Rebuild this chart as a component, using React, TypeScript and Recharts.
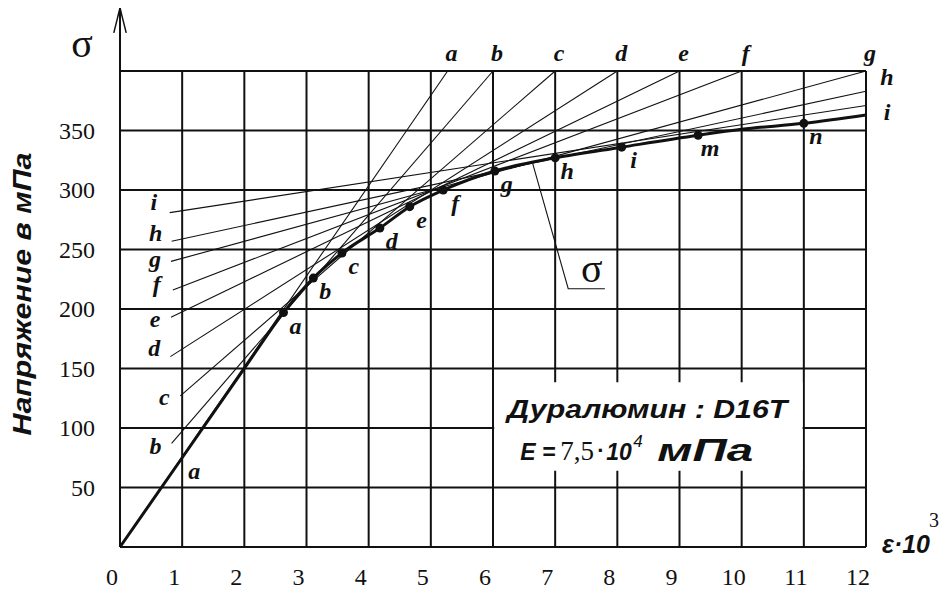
import {
  ComposedChart,
  Line,
  Scatter,
  XAxis,
  YAxis,
  CartesianGrid,
  ReferenceLine,
  ReferenceArea,
} from "recharts";

// axes
const xTicks = [0, 1, 2, 3, 4, 5, 6, 7, 8, 9, 10, 11, 12];
const yTicks = [0, 50, 100, 150, 200, 250, 300, 350, 400];
const yLabelled = [50, 100, 150, 200, 250, 300, 350];
const axisTop = 453;

// sigma(eps) curve, eps*10^3 vs MPa
const curveEps = [0, 1, 2, 2.63, 3.11, 3.57, 4.18, 4.66, 5.2, 6.03, 7.0, 8.07, 9.3, 10.0, 11.0, 12.0];
const curveSigma = [0, 75, 150, 197, 226, 247, 268, 286, 300, 316, 327, 336, 346, 351, 356, 363];

// marked points on the curve
const pointNames = ["a", "b", "c", "d", "e", "f", "g", "h", "i", "m", "n"];
const pointEps = [2.63, 3.11, 3.57, 4.18, 4.66, 5.2, 6.03, 7.0, 8.07, 9.3, 11.0];
const pointSigma = [197, 226, 247, 268, 286, 300, 316, 327, 336, 346, 356];

// tangent lines a..i
const lineNames = ["a", "b", "c", "d", "e", "f", "g", "h", "i"];
const lineStartEps = [0, 0.83, 0.97, 0.81, 0.82, 0.85, 0.82, 0.83, 0.8];
const lineStartSigma = [0, 87, 127, 160, 193, 216, 240, 257, 281];
const lineEndEps = [5.27, 6.0, 7.0, 8.0, 9.0, 10.0, 12.0, 12.0, 12.0];
const lineEndSigma = [400, 400, 400, 400, 400, 400, 400, 383, 371];

// leader for the sigma label
const leaderEps = [6.64, 7.21, 7.8];
const leaderSigma = [322, 217, 217];

// note box
const boxEps = [6.02, 10.98];
const boxSigma = [64, 138.5];

const curve = curveEps.map((x, i) => ({ x, y: curveSigma[i] }));
const points = pointNames.map((t, i) => ({ x: pointEps[i], y: pointSigma[i], t }));
const tangents = lineNames.map((t, i) => ({
  t,
  data: [
    { x: lineStartEps[i], y: lineStartSigma[i] },
    { x: lineEndEps[i], y: lineEndSigma[i] },
  ],
}));
const leftLabels = tangents.filter((l) => l.t !== "a").map((l) => ({ ...l.data[0], t: l.t }));
const topLabels = tangents.filter((l) => l.data[1].y >= 400).map((l) => ({ ...l.data[1], t: l.t }));
const rightLabels = tangents.filter((l) => l.data[1].y < 400).map((l) => ({ ...l.data[1], t: l.t }));
const elasticLabel = [{ x: curveEps[1], y: curveSigma[1], t: "a" }];
const leader = leaderEps.map((x, i) => ({ x, y: leaderSigma[i] }));
const leaderLabel = [{ ...leader[2], t: "σ" }];

const SERIF = "'Liberation Serif', 'Times New Roman', serif";
const SANS = "'Liberation Sans', Arial, sans-serif";
const INK = "#111";

const letter = {
  fontFamily: SERIF,
  fontStyle: "italic" as const,
  fontWeight: 700,
  fontSize: 24,
  fill: INK,
};

// small vertical nudges so the crowded labels read apart
const leftNudge: Record<string, number> = { i: -8, h: -5, g: 1, f: -3, e: 5, d: -6, c: 4, b: 6 };
const rightNudge: Record<string, number> = { h: -12, i: 8 };

const textShape = (dx: number, dy: number, style: any, withDot = false, nudge: Record<string, number> = {}) => (p: any) => (
  <g>
    {withDot && <circle cx={p.cx} cy={p.cy} r={4.5} fill={INK} />}
    <text
      x={p.cx + dx}
      y={p.cy + dy + (nudge[p.payload.t] || 0)}
      textAnchor="middle"
      style={style}
    >
      {p.payload.t}
    </text>
  </g>
);

const XTick = (p: any) => (
  <text x={p.x - 8} y={p.y + 38} textAnchor="middle" fontFamily={SERIF} fontSize={24} fill={INK}>
    {p.payload.value}
  </text>
);

const YTick = (p: any) =>
  yLabelled.includes(p.payload.value) ? (
    <text x={p.x - 25} y={p.y + 8} textAnchor="end" fontFamily={SERIF} fontSize={24} fill={INK}>
      {p.payload.value}
    </text>
  ) : (
    <g />
  );

const renderYTitle = (props: any) => {
  const vb = props.viewBox;
  const left = vb.x + vb.width;
  const top = vb.y;
  const tx = left - 89;
  const ty = top + 223;
  return (
    <g>
      <text x={left - 38} y={top - 14} textAnchor="middle" fontFamily={SERIF} fontSize={40} fill={INK}>
        σ
      </text>
      <text
        x={tx}
        y={ty}
        transform={`rotate(-90 ${tx} ${ty})`}
        textAnchor="middle"
        fontFamily={SANS}
        fontWeight={700}
        fontStyle="italic"
        fontSize={25}
        textLength={283}
        lengthAdjust="spacingAndGlyphs"
        fill={INK}
      >
        Напряжение в мПа
      </text>
    </g>
  );
};

const renderXTitle = (props: any) => {
  const vb = props.viewBox;
  const right = vb.x + vb.width;
  return (
    <g>
      <text
        x={right + 16}
        y={vb.y + 6}
        fontFamily={SANS}
        fontWeight={700}
        fontStyle="italic"
        fontSize={25}
        textLength={48}
        lengthAdjust="spacingAndGlyphs"
        fill={INK}
      >
        ε·10
      </text>
      <text x={right + 63} y={vb.y - 20} fontFamily={SERIF} fontSize={20} fill={INK}>
        3
      </text>
    </g>
  );
};

const boldItalic = { fontFamily: SANS, fontWeight: 700, fontStyle: "italic" as const, fill: INK };

const renderBoxText = (props: any) => {
  const vb = props.viewBox;
  const x = vb.x;
  const y = vb.y;
  return (
    <g>
      <text
        x={x + 13}
        y={y + 36}
        style={{ ...boldItalic, fontSize: 25 }}
        textLength={280}
        lengthAdjust="spacingAndGlyphs"
      >
        Дуралюмин : D16T
      </text>
      <text x={x + 26} y={y + 78} style={{ ...boldItalic, fontSize: 23 }}>
        E =
      </text>
      <text x={x + 66} y={y + 78} fontFamily={SERIF} fontSize={27} fill={INK}>
        7,5
      </text>
      <text x={x + 103} y={y + 76} style={{ ...boldItalic, fontStyle: "normal", fontSize: 22 }}>
        ·
      </text>
      <text x={x + 112} y={y + 78} style={{ ...boldItalic, fontSize: 23 }}>
        10
      </text>
      <text x={x + 139} y={y + 65} style={{ ...boldItalic, fontWeight: 400, fontSize: 17 }}>
        4
      </text>
      <text
        x={x + 163}
        y={y + 79}
        style={{ ...boldItalic, fontSize: 31 }}
        textLength={96}
        lengthAdjust="spacingAndGlyphs"
      >
        мПа
      </text>
    </g>
  );
};

export default function App() {
  return (
    <ComposedChart
      width={934}
      height={581}
      margin={{ top: 63, right: 76, bottom: 12, left: 52 }}
    >
      <CartesianGrid stroke={INK} strokeWidth={2} />
      <XAxis
        type="number"
        dataKey="x"
        domain={[0, 12]}
        ticks={xTicks}
        axisLine={false}
        tickLine={false}
        tickSize={0}
        tickMargin={0}
        height={30}
        tick={XTick}
        label={{ content: renderXTitle }}
      />
      <YAxis
        type="number"
        dataKey="y"
        domain={[0, 400]}
        ticks={yTicks}
        axisLine={false}
        tickLine={false}
        tickSize={0}
        tickMargin={0}
        width={60}
        tick={YTick}
        label={{ content: renderYTitle }}
      />
      <ReferenceArea
        x1={boxEps[0]}
        x2={boxEps[1]}
        y1={boxSigma[0]}
        y2={boxSigma[1]}
        fill="#fff"
        fillOpacity={1}
        stroke="none"
        label={{ content: renderBoxText }}
      />
      <ReferenceLine segment={[{ x: 0, y: 0 }, { x: 0, y: axisTop }]} stroke={INK} strokeWidth={2} ifOverflow="visible" />
      <ReferenceLine segment={[{ x: -0.1, y: axisTop - 21 }, { x: 0, y: axisTop }]} stroke={INK} strokeWidth={1.5} ifOverflow="visible" />
      <ReferenceLine segment={[{ x: 0.1, y: axisTop - 21 }, { x: 0, y: axisTop }]} stroke={INK} strokeWidth={1.5} ifOverflow="visible" />

      {tangents.map((l) => (
        <Line
          key={"t" + l.t}
          data={l.data}
          dataKey="y"
          type="linear"
          stroke={INK}
          strokeWidth={1.1}
          dot={false}
          activeDot={false}
          isAnimationActive={false}
        />
      ))}
      <Line
        data={leader}
        dataKey="y"
        type="linear"
        stroke={INK}
        strokeWidth={1.1}
        dot={false}
        activeDot={false}
        isAnimationActive={false}
      />
      <Line
        data={curve}
        dataKey="y"
        type="monotone"
        stroke={INK}
        strokeWidth={3}
        dot={false}
        activeDot={false}
        isAnimationActive={false}
      />

      <Scatter data={points} shape={textShape(12, 21, letter, true)} isAnimationActive={false} />
      <Scatter data={elasticLabel} shape={textShape(12, 21, letter)} isAnimationActive={false} />
      <Scatter data={leftLabels} shape={textShape(-16, 5, letter, false, leftNudge)} isAnimationActive={false} />
      <Scatter data={topLabels} shape={textShape(4, -10, letter)} isAnimationActive={false} />
      <Scatter data={rightLabels} shape={textShape(21, 6, letter, false, rightNudge)} isAnimationActive={false} />
      <Scatter
        data={leaderLabel}
        shape={textShape(-13, -7, { fontFamily: SERIF, fontSize: 40, fill: INK })}
        isAnimationActive={false}
      />
    </ComposedChart>
  );
}
